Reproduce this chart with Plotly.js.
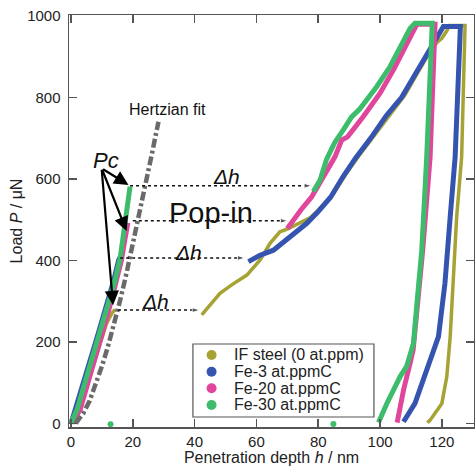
<!DOCTYPE html>
<html>
<head>
<meta charset="utf-8">
<script src="https://cdn.plot.ly/plotly-3.0.1.min.js"></script>
<style>html,body{margin:0;padding:0;background:#fff;}#chart{width:475px;height:470px;}</style>
</head>
<body>
<div id="chart"></div>
<script>
// ---------- data ----------
const seriesNames = ["IF steel (0 at.ppm)", "Fe-3 at.ppmC", "Fe-20 at.ppmC", "Fe-30 at.ppmC"];
const seriesColors = ["#a6a233", "#3554b0", "#e0469b", "#3dbd6c"];

// IF steel: loading up to pop-in, then loading after pop-in + unloading
const ifPreH = [0.5, 3, 5.5, 7.5, 9.5, 11.5, 13.2, 14.3];
const ifPreP = [0, 35, 100, 150, 200, 245, 270, 280];
const ifPostH = [42.3, 45, 48.2, 52, 56.9, 61.2, 64.4, 67.6, 70.3, 77.5, 81, 85, 89, 93, 98, 103, 108, 112.3, 116.2, 118.5, 120, 121.5, 122.5, 127.5, 126.4, 124.8, 123.7, 122.7, 121.6, 120, 116.2, 115.3];
const ifPostP = [266, 290, 319, 340, 364, 401, 442, 470, 478, 505, 530, 565, 612, 655, 705, 758, 805, 862, 912, 935, 945, 962, 976, 976, 654, 507, 344, 213, 115, 49, 8, 2];

// Fe-3
const fe3PreH = [0, 1.5, 4, 6, 8, 10, 12, 13.8, 15.4, 15.8];
const fe3PreP = [0, 35, 100, 150, 200, 250, 300, 350, 400, 407];
const fe3PostH = [57.4, 61, 65.5, 69.8, 76.3, 80, 84, 88, 92, 97, 102, 107, 111.5, 115.5, 118.3, 120.5, 126, 124.3, 122.7, 121, 118.9, 115.1, 111.3, 107.6];
const fe3PostP = [397, 412, 425, 452, 491, 520, 555, 605, 650, 700, 755, 800, 860, 910, 945, 974, 974, 654, 507, 344, 213, 131, 49, 4];

// Fe-20
const fe20PreH = [0.5, 3, 5.5, 7.5, 9.3, 11.2, 13, 14.7, 16.3, 17.4, 18.4];
const fe20PreP = [0, 35, 100, 150, 200, 250, 300, 350, 400, 450, 492];
const fe20PostH = [70, 71.9, 74.5, 77.9, 81.1, 85.4, 87.6, 89.5, 94.6, 100, 104.3, 108.6, 111.9, 117.8, 116.2, 113.8, 112, 110.7, 109.7, 107.6, 105.9, 105.5];
const fe20PostP = [478, 499, 525, 556, 597, 654, 695, 703, 753, 810, 867, 933, 979, 979, 654, 425, 262, 180, 147, 82, 16, 2];

// Fe-30
const fe30PreH = [0, 2, 4.5, 6.5, 8.3, 10.3, 12.3, 14.2, 15.9, 16.8, 17.5, 18.3, 19.1];
const fe30PreP = [0, 35, 100, 150, 200, 250, 300, 350, 405, 450, 491, 540, 581];
const fe30PostH = [78.4, 80.6, 82.7, 85.4, 88.1, 90.8, 93.5, 98.9, 103.2, 106.5, 109.7, 111.3, 116.9, 115.1, 113.5, 112, 110.8, 108.6, 106.5, 102.2, 99.5];
const fe30PostP = [569, 597, 648, 690, 720, 752, 772, 826, 875, 924, 969, 982, 982, 654, 425, 300, 196, 140, 115, 49, 2];
const fe30StrayH = [12.8, 84.9];
const fe30StrayP = [-2, -1.5];

// Hertzian fit (dash-dot grey)
const hertzH = [1.5, 4, 6, 8, 10, 12, 14, 16, 18, 20, 22, 24, 26, 28.3];
const hertzP = [0, 25, 55, 95, 140, 190, 245, 305, 370, 440, 505, 580, 655, 740];

// Pop-in (Delta h) dotted arrows: start depth, end depth, load
const popStartH = [19.1, 20.0, 15.9, 15.2];
const popEndH = [77.9, 70.2, 56.3, 41.7];
const popLoad = [583, 497, 406, 278];

// Pc arrows: common tail, heads
const pcTail = [9.9, 626];
const pcHeadH = [18.6, 18.0, 13.6];
const pcHeadP = [585, 472, 290];

// axis ticks
const xTicks = [0, 20, 40, 60, 80, 100, 120];
const yTicks = [0, 200, 400, 600, 800, 1000];

// ---------- build traces ----------
const FONT = "Liberation Sans, Arial, Helvetica, sans-serif";
const traces = [];
const pre = [[ifPreH, ifPreP], [fe3PreH, fe3PreP], [fe20PreH, fe20PreP], [fe30PreH, fe30PreP]];
const post = [[ifPostH, ifPostP], [fe3PostH, fe3PostP], [fe20PostH, fe20PostP], [fe30PostH, fe30PostP]];
const widths = [3.5, 5, 5, 5];
for (let i = 0; i < 4; i++) {
  traces.push({x: pre[i][0], y: pre[i][1], mode: "lines", name: seriesNames[i], legendgroup: "g" + i, line: {color: seriesColors[i], width: widths[i]}, showlegend: false, hoverinfo: "skip"});
  traces.push({x: post[i][0], y: post[i][1], mode: "lines", name: seriesNames[i], legendgroup: "g" + i, line: {color: seriesColors[i], width: widths[i]}, showlegend: false, hoverinfo: "skip"});
}
traces.push({x: fe30StrayH, y: fe30StrayP, mode: "markers", name: seriesNames[3], marker: {color: seriesColors[3], size: 6}, showlegend: false, hoverinfo: "skip"});
traces.push({x: hertzH, y: hertzP, mode: "lines", name: "Hertzian fit", line: {color: "#6a6a6a", width: 4.5, dash: "9px,3px,3px,3px"}, showlegend: false, hoverinfo: "skip"});
// dotted pop-in arrows
for (let i = 0; i < popLoad.length; i++) {
  traces.push({x: [popStartH[i], popEndH[i]], y: [popLoad[i], popLoad[i]], mode: "lines+markers",
    line: {color: "#111", width: 1.5, dash: "dot"},
    marker: {symbol: ["circle", "arrow"], angleref: "previous", size: [0, 8], color: "#111"},
    showlegend: false, hoverinfo: "skip"});
}

const annotations = [];
for (let i = 0; i < pcHeadH.length; i++) {
  annotations.push({x: pcHeadH[i], y: pcHeadP[i], ax: pcTail[0], ay: pcTail[1], xref: "x", yref: "y", axref: "x", ayref: "y",
    showarrow: true, arrowhead: 2, arrowsize: 1.3, arrowwidth: 2.2, arrowcolor: "#000", text: ""});
}
const txt = (x, y, t, size) => ({x: x, y: y, xref: "x", yref: "y", text: t, showarrow: false, font: {family: FONT, size: size, color: "#111"}});
annotations.push(txt(11.3, 646, "<i>Pc</i>", 22));
annotations.push(txt(31.1, 771, "Hertzian fit", 16));
annotations.push(txt(50.2, 605, "<i>Δh</i>", 21));
annotations.push(txt(45.3, 516, "Pop-in", 29));
annotations.push(txt(37.9, 420, "<i>Δh</i>", 21));
annotations.push(txt(27.2, 300, "<i>Δh</i>", 21));

// ---------- legend box (paper coordinates) ----------
const legX0 = 0.306, legX1 = 0.753, legY0 = 0.0243, legY1 = 0.2015;
const legRowY = [0.1748, 0.1342, 0.0939, 0.0534];
const legMarkX = 0.352, legTextX = 0.4017;
const shapes = [{type: "rect", xref: "paper", yref: "paper", x0: legX0, x1: legX1, y0: legY0, y1: legY1,
  line: {color: "#555", width: 1.2}, fillcolor: "#fff", layer: "above"}];
for (let i = 0; i < 4; i++) {
  shapes.push({type: "circle", xref: "paper", yref: "paper", xsizemode: "pixel", ysizemode: "pixel",
    xanchor: legMarkX, yanchor: legRowY[i], x0: -5, x1: 5, y0: -5, y1: 5,
    fillcolor: seriesColors[i], line: {width: 0}, layer: "above"});
  annotations.push({xref: "paper", yref: "paper", x: legTextX, y: legRowY[i], xanchor: "left", yanchor: "middle",
    text: seriesNames[i], showarrow: false, font: {family: FONT, size: 16, color: "#222"}});
}

const axisCommon = {showline: true, linecolor: "#555", linewidth: 1.5, mirror: "ticks", ticks: "inside", ticklen: 8, tickwidth: 1.5, tickcolor: "#555",
  showgrid: false, zeroline: false, tickfont: {family: FONT, size: 15, color: "#222"}};

const layout = {
  width: 475, height: 470,
  margin: {l: 69, r: 1, t: 15, b: 43},
  paper_bgcolor: "#fff", plot_bgcolor: "#fff",
  font: {family: FONT, color: "#222"},
  xaxis: Object.assign({}, axisCommon, {range: [-0.65, 130.4], tickvals: xTicks, ticklabelstandoff: 0,
    title: {text: "Penetration depth <i>h</i> / nm", font: {family: FONT, size: 16, color: "#222"}, standoff: 0}}),
  yaxis: Object.assign({}, axisCommon, {range: [-8.8, 1002], tickvals: yTicks, ticklabelstandoff: 4,
    title: {text: "Load <i>P</i> / μN", font: {family: FONT, size: 16, color: "#222"}, standoff: 0}}),
  annotations: annotations,
  shapes: shapes,
  showlegend: false
};

Plotly.newPlot("chart", traces, layout, {displayModeBar: false, staticPlot: true});
</script>
</body>
</html>
